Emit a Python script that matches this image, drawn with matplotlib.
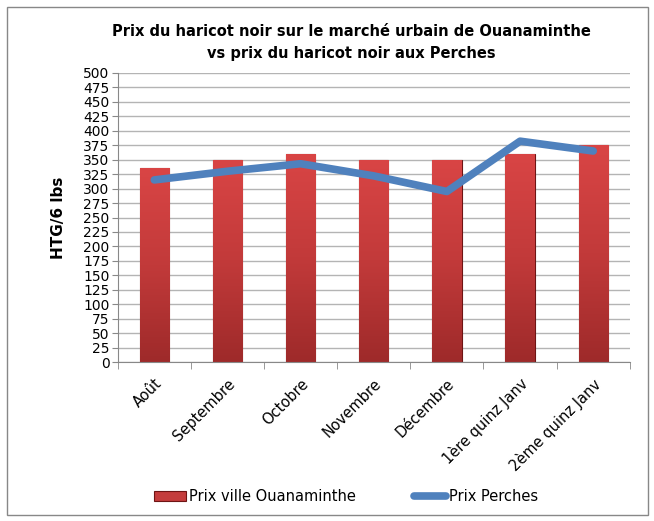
import numpy as np
import matplotlib
matplotlib.use('Agg')
import matplotlib.pyplot as plt
from matplotlib.patches import Rectangle

plt.rcParams['font.family'] = ['DejaVu Sans']

# Data
categories = ['Août', 'Septembre', 'Octobre', 'Novembre', 'Décembre',
              '1ère quinz Janv', '2ème quinz Janv']
prix_ouanaminthe = [335, 350, 360, 350, 350, 360, 375]
prix_perches = [315, 330, 343, 322, 295, 382, 365]
yticks = list(range(0, 501, 25))

fig = plt.figure(figsize=(6.54, 5.21), dpi=100)
ax = fig.add_axes([0.180, 0.305, 0.783, 0.555])

x = np.arange(len(categories))

# bars with a simple vertical gradient
bars = ax.bar(x, prix_ouanaminthe, width=0.4, color='#c43c3c',
              edgecolor='#6e1414', linewidth=0.8, zorder=2,
              label='Prix ville Ouanaminthe')
grad = np.linspace(0, 1, 256).reshape(-1, 1)
cmap = matplotlib.colors.LinearSegmentedColormap.from_list(
    'redgrad', ['#9e2a2a', '#c23a3a', '#d94545'])
for b in bars:
    bx, by = b.get_x(), b.get_y()
    w, h = b.get_width(), b.get_height()
    im = ax.imshow(grad, extent=[bx, bx + w, by, by + h], origin='lower',
                   cmap=cmap, aspect='auto', zorder=2.1)
    im.set_clip_path(b)

ax.plot(x, prix_perches, color='#4f81bd', linewidth=5.5,
        solid_capstyle='round', zorder=3, label='Prix Perches')

ax.set_xlim(-0.5, len(categories) - 0.5)
ax.set_ylim(0, 500)
ax.set_yticks(yticks)
ax.set_yticklabels([str(v) for v in yticks], fontsize=10)
ax.yaxis.grid(True, color='#b4b4b4', linewidth=1.0, zorder=0)
ax.set_axisbelow(True)

ax.set_xticks(x)
ax.set_xticklabels(categories, rotation=45, ha='right',
                   rotation_mode='anchor', fontsize=10.5)
ax.tick_params(axis='x', length=0, pad=10)
ax.set_xticks(np.arange(-0.5, len(categories)), minor=True)
ax.tick_params(axis='x', which='minor', length=5, color='#888888')
ax.tick_params(axis='y', length=4, color='#888888', pad=2)

for s in ['top', 'right']:
    ax.spines[s].set_visible(False)
ax.spines['left'].set_color('#888888')
ax.spines['bottom'].set_color('#888888')

ax.set_ylabel('HTG/6 lbs', fontsize=11, fontweight='bold', labelpad=12)

fig.text(0.537, 0.918, 'Prix du haricot noir sur le marché urbain de Ouanaminthe\n'
         'vs prix du haricot noir aux Perches', ha='center', va='center',
         fontsize=10.5, fontweight='bold', linespacing=1.6)

handles, labels = ax.get_legend_handles_labels()
order = [labels.index('Prix ville Ouanaminthe'), labels.index('Prix Perches')]
fig.legend([handles[i] for i in order], [labels[i] for i in order],
           loc='center', bbox_to_anchor=(0.529, 0.047), ncol=2, frameon=False,
           fontsize=10.5, columnspacing=4, handlelength=2.2, handletextpad=0.2)

fig.patches.append(Rectangle((7 / 654, 6 / 521), 641 / 654, 508 / 521,
                             transform=fig.transFigure, fill=False,
                             edgecolor='#888888', linewidth=1))

fig.savefig('out.png', dpi=100)
